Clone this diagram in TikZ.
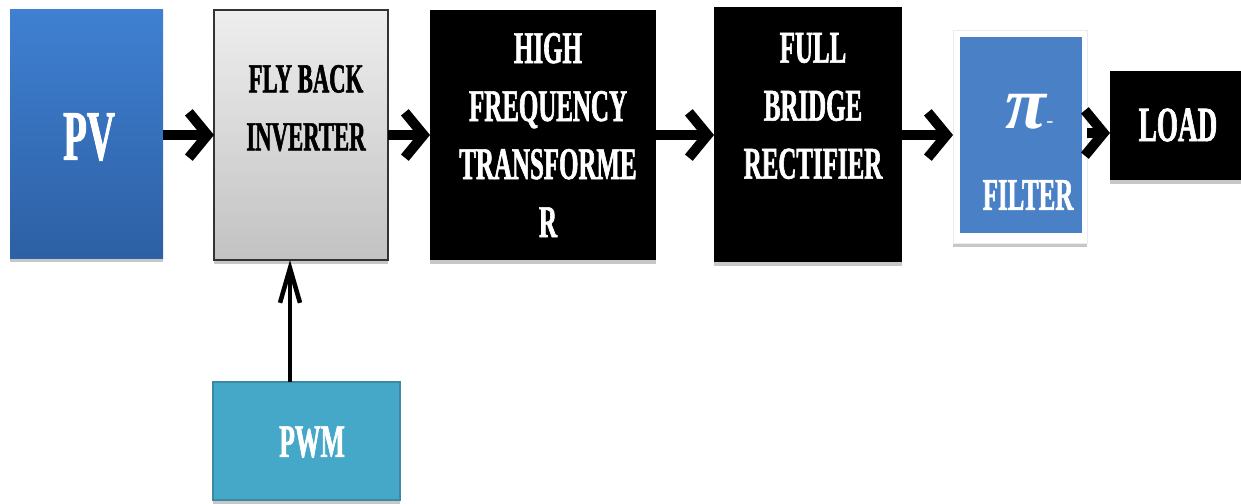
\documentclass[tikz,border=0pt]{standalone}
\usepackage{fontspec}
\newfontfamily\cf{Liberation Serif}[FakeStretch=0.55, BoldFeatures={FakeBold=1.3}]
\newfontfamily\pif{Liberation Serif}
\usetikzlibrary{arrows.meta,shadows}
\definecolor{pvtop}{HTML}{3F80D2}
\definecolor{pvbot}{HTML}{2D60A4}
\definecolor{fbtop}{HTML}{EEEEEE}
\definecolor{fbbot}{HTML}{C2C2C2}
\definecolor{piblue}{HTML}{4A80C6}
\definecolor{pwmfill}{HTML}{46A8C8}
\definecolor{pwmdraw}{HTML}{3A8AA4}
\begin{document}
\begin{tikzpicture}[x=0.75pt,y=-0.75pt,
  box/.style={inner sep=0pt, outer sep=0pt, anchor=center},
  shad/.style={drop shadow={shadow xshift=0pt, shadow yshift=-3pt, opacity=0.22, fill=black}},
  wtxt/.style={text=white, align=center, inner sep=0pt, font=\cf\bfseries\fontsize{34}{43.5}\selectfont},
  arr/.style={line width=7.5pt, -{Straight Barb[length=14pt,width=34pt]}},
  varr/.style={line width=3.4pt, -{Straight Barb[length=26pt,width=15pt]}}
]
\useasboundingbox (0,0) rectangle (1241,503);
% PV
\node[box, shad, top color=pvtop, bottom color=pvbot, minimum width=153*0.75pt, minimum height=248*0.75pt] (pv) at (86.5,134) {};
\node[wtxt, font=\cf\bfseries\fontsize{53}{60}\selectfont] (pvt) at (89,137) {PV};
% Fly back inverter
\node[box, shad, draw=black!80, line width=1pt, top color=fbtop, bottom color=fbbot, minimum width=174*0.75pt, minimum height=250*0.75pt] (fb) at (301,135) {};
\node[wtxt, text=black, font=\cf\bfseries\fontsize{31}{43.5}\selectfont] (fbt) at (306,108) {FLY BACK\\INVERTER};
% High frequency transformer
\node[box, shad, fill=black, minimum width=226*0.75pt, minimum height=250*0.75pt] (hft) at (543,135) {};
\node[wtxt] (hftt) at (548,135) {HIGH\\FREQUENCY\\TRANSFORME\\R};
% Full bridge rectifier
\node[box, shad, fill=black, minimum width=188*0.75pt, minimum height=255*0.75pt] (fbr) at (808,134.5) {};
\node[wtxt] (fbrt) at (813,106) {FULL\\BRIDGE\\RECTIFIER};
% Pi filter
\node[box, shad, fill=white, draw=black!8, minimum width=134*0.75pt, minimum height=213*0.75pt] (pi) at (1020,136.5) {};
\node[box, fill=piblue, minimum width=122*0.75pt, minimum height=196*0.75pt] (piin) at (1021,135) {};
\node[text=white, inner sep=0pt, font=\pif\bfseries\itshape\fontsize{56}{56}\selectfont] (pisym) at (1026,112) {π};
\node[text=white!85!piblue, inner sep=0pt, font=\pif\bfseries\fontsize{16}{16}\selectfont] (pidash) at (1050,125) {-};
\node[wtxt] (pit) at (1028,195) {FILTER};
% Load
\node[box, shad, fill=black, minimum width=131*0.75pt, minimum height=109*0.75pt] (load) at (1175.5,125.5) {};
\node[wtxt, font=\cf\bfseries\fontsize{37}{43.5}\selectfont] (loadt) at (1178,125) {LOAD};
% PWM
\node[box, shad, fill=pwmfill, draw=pwmdraw, line width=2pt, minimum width=187*0.75pt, minimum height=118*0.75pt] (pwm) at (306.5,441) {};
\node[wtxt, font=\cf\bfseries\fontsize{35}{43.5}\selectfont] (pwmt) at (312,442) {PWM};
% arrows
\draw[arr] (pv.east |- 0,135) -- (fb.west |- 0,135);
\draw[arr] (fb.east |- 0,135) -- (hft.west |- 0,135);
\draw[arr] (hft.east |- 0,135) -- (fbr.west |- 0,135);
\draw[arr] (fbr.east |- 0,135) -- (pi.west |- 0,135);
\draw[arr] (pi.east |- 0,133) -- (load.west |- 0,133);
\draw[varr] (pwm.north -| 290,0) -- (fb.south -| 290,0);
\end{tikzpicture}
\end{document}
